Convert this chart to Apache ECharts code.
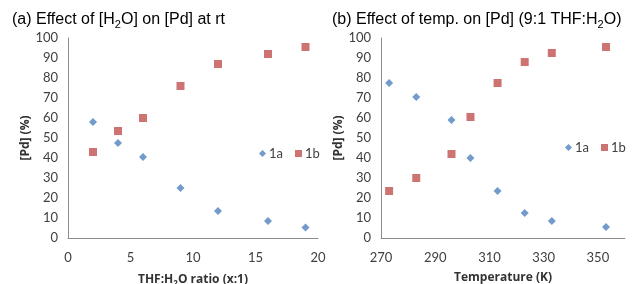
<!DOCTYPE html>
<html>
<head>
<meta charset="utf-8">
<script src="https://cdn.jsdelivr.net/npm/echarts@6/dist/echarts.min.js"></script>
<style>
  html, body { margin: 0; padding: 0; background: #fff; }
  #main { width: 633px; height: 284px; }
</style>
</head>
<body>
<div id="main"></div>
<script>
// (a) ratio THF:H2O (x:1)
var ratioX = [2, 4, 6, 9, 12, 16, 19];
var ratio1a = [58, 47.5, 40.5, 25, 13.5, 8.5, 5.2];
var ratio1b = [43, 53.5, 60, 76, 87, 92, 95.5];

// (b) temperature (K)
var tempX = [273, 283, 296, 303, 313, 323, 333, 353];
var temp1a = [77.5, 70.5, 59, 40, 23.5, 12.5, 8.5, 5.5];
var temp1b = [23.5, 30, 42, 60.5, 77.5, 88, 92.5, 95.5];

var blue = '#4F81BD';
var red = '#C0504D';
var labelFont = 'Lato';
var nameFont = 'Open Sans';

function pairs(xs, ys) {
  var out = [];
  for (var i = 0; i < xs.length; i++) {
    out.push([xs[i], ys[i]]);
  }
  return out;
}

// rich styles for the titles, with a small subscript
var titleRich = {
  b: { fontSize: 16, lineHeight: 20, fontFamily: 'Liberation Sans', fontWeight: 'normal', color: '#000' },
  sub: { fontSize: 11, lineHeight: 12, verticalAlign: 'bottom', fontFamily: 'Liberation Sans', fontWeight: 'normal', color: '#000' }
};

var nameStyle = { fontFamily: nameFont, fontWeight: 'bold', fontSize: 12, color: '#333' };

function yAxisCfg(idx) {
  return {
    gridIndex: idx,
    type: 'value',
    min: 0,
    max: 100,
    interval: 10,
    name: '[Pd] (%)',
    nameLocation: 'middle',
    nameGap: 36,
    nameTextStyle: nameStyle,
    axisLine: { show: true, lineStyle: { color: '#8c8c8c', width: 1 } },
    axisTick: { show: false },
    splitLine: { show: false },
    axisLabel: { fontFamily: labelFont, fontSize: 13, color: '#404040', margin: 10 }
  };
}

var chart = echarts.init(document.getElementById('main'));

var option = {
  backgroundColor: '#fff',
  animation: false,
  title: [{
    text: '{b|(a) Effect of [H}{sub|2}{b|O] on [Pd] at rt}',
    left: 12,
    top: 10,
    padding: 0,
    textStyle: { fontWeight: 'normal', rich: titleRich }
  }, {
    text: '{b|(b) Effect of temp. on [Pd] (9:1 THF:H}{sub|2}{b|O)}',
    left: 332,
    top: 10,
    padding: 0,
    textStyle: { fontWeight: 'normal', rich: titleRich }
  }],
  legend: [{
    data: [{ name: '1a', icon: 'diamond' }, { name: '1b', icon: 'rect' }],
    left: 259,
    top: 147,
    itemWidth: 7,
    itemHeight: 7,
    itemGap: 12,
    padding: 0,
    textStyle: { fontFamily: labelFont, fontSize: 13, color: '#404040', padding: [0, 0, 0, -2] }
  }, {
    data: [{ name: '1a', icon: 'diamond' }, { name: '1b', icon: 'rect' }],
    left: 565,
    top: 141,
    itemWidth: 7,
    itemHeight: 7,
    itemGap: 12,
    padding: 0,
    textStyle: { fontFamily: labelFont, fontSize: 13, color: '#404040', padding: [0, 0, 0, -2] }
  }],
  grid: [
    { left: 68, top: 38, width: 250, height: 200, containLabel: false, outerBoundsMode: 'none' },
    { left: 381, top: 38, width: 244, height: 200, containLabel: false, outerBoundsMode: 'none' }
  ],
  xAxis: [{
    gridIndex: 0,
    type: 'value',
    min: 0,
    max: 20,
    interval: 5,
    name: '{n|THF:H}{s|2}{n|O ratio (x:1)}',
    nameLocation: 'middle',
    nameGap: 34,
    nameTextStyle: {
      rich: {
        n: { fontFamily: nameFont, fontWeight: 'bold', fontSize: 12, color: '#333', lineHeight: 16 },
        s: { fontFamily: nameFont, fontWeight: 'bold', fontSize: 8, color: '#333', lineHeight: 10, verticalAlign: 'bottom' }
      }
    },
    axisLine: { onZero: false, lineStyle: { color: '#8c8c8c', width: 1 } },
    axisTick: { show: false },
    splitLine: { show: false },
    axisLabel: { fontFamily: labelFont, fontSize: 13, color: '#404040', margin: 13 }
  }, {
    gridIndex: 1,
    type: 'value',
    min: 270,
    max: 360,
    interval: 10,
    name: 'Temperature (K)',
    nameLocation: 'middle',
    nameGap: 34,
    nameTextStyle: nameStyle,
    axisLine: { onZero: false, lineStyle: { color: '#8c8c8c', width: 1 } },
    axisTick: { show: false },
    splitLine: { show: false },
    axisLabel: {
      fontFamily: labelFont, fontSize: 13, color: '#404040', margin: 13,
      formatter: function (v) {
        return ((v - 270) % 20 === 0 && v < 360) ? String(v) : '';
      }
    }
  }],
  yAxis: [yAxisCfg(0), yAxisCfg(1)],
  series: [{
    name: '1a', type: 'scatter', xAxisIndex: 0, yAxisIndex: 0,
    symbol: 'diamond', symbolSize: 8, itemStyle: { color: blue },
    data: pairs(ratioX, ratio1a)
  }, {
    name: '1b', type: 'scatter', xAxisIndex: 0, yAxisIndex: 0,
    symbol: 'rect', symbolSize: 8, itemStyle: { color: red },
    data: pairs(ratioX, ratio1b)
  }, {
    name: '1a', type: 'scatter', xAxisIndex: 1, yAxisIndex: 1,
    symbol: 'diamond', symbolSize: 8, itemStyle: { color: blue },
    data: pairs(tempX, temp1a)
  }, {
    name: '1b', type: 'scatter', xAxisIndex: 1, yAxisIndex: 1,
    symbol: 'rect', symbolSize: 8, itemStyle: { color: red },
    data: pairs(tempX, temp1b)
  }]
};

chart.setOption(option);
</script>
</body>
</html>
